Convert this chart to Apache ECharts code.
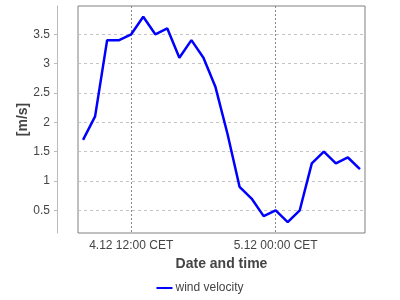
<!DOCTYPE html>
<html>
<head>
<meta charset="utf-8">
<script src="https://cdn.jsdelivr.net/npm/echarts@6/dist/echarts.min.js"></script>
<style>html,body{margin:0;padding:0;background:#fff}#c{width:400px;height:300px}</style>
</head>
<body>
<div id="c"></div>
<script>
// hours since 4.12 00:00 CET
var hours = [8,9,10,11,12,13,14,15,16,17,18,19,20,21,22,23,24,25,26,27,28,29,30,31];
var windVelocity = [1.7,2.1,3.4,3.4,3.5,3.8,3.5,3.6,3.1,3.4,3.1,2.6,1.8,0.9,0.7,0.4,0.5,0.3,0.5,1.3,1.5,1.3,1.4,1.2];
var xTicks = [12, 24];
var yTicks = [0.5, 1, 1.5, 2, 2.5, 3, 3.5];

function fmtX(v) {
  var day = 4 + Math.floor(v / 24);
  var h = v % 24;
  return day + '.12 ' + (h < 10 ? '0' : '') + h + ':00 CET';
}

var chart = echarts.init(document.getElementById('c'), null, {renderer: 'canvas'});
chart.setOption({
  animation: false,
  textStyle: {fontFamily: 'Liberation Sans, Arial, sans-serif'},
  grid: {left: 78, right: 35, top: 6, bottom: 67, show: true, borderColor: '#808080', borderWidth: 1, containLabel: false},
  xAxis: {
    type: 'value', min: 7.58, max: 31.42,
    name: 'Date and time', nameLocation: 'middle', nameGap: 24, nameMoveOverlap: false,
    nameTextStyle: {fontSize: 14, fontWeight: 'bold', color: '#444'},
    axisLine: {show: false},
    axisTick: {show: false, customValues: xTicks},
    axisLabel: {customValues: xTicks, formatter: fmtX, fontSize: 12, color: '#444', margin: 7},
    splitLine: {show: true, customValues: xTicks, lineStyle: {color: '#888', type: [2, 2], width: 1}}
  },
  yAxis: {
    type: 'value', min: 0.113, max: 3.982, offset: 21,
    name: '[m/s]', nameLocation: 'middle', nameGap: 27, nameMoveOverlap: false,
    nameTextStyle: {fontSize: 14, fontWeight: 'bold', color: '#444'},
    axisLine: {show: true, lineStyle: {color: '#bbb'}},
    axisTick: {show: true, length: 3, customValues: yTicks, lineStyle: {color: '#bbb'}},
    axisLabel: {customValues: yTicks, fontSize: 12, color: '#444', margin: 7},
    splitLine: {show: true, customValues: yTicks, lineStyle: {color: '#c4c4c4', type: [3, 3], width: 1}}
  },
  legend: {
    top: 277, left: 'center', itemWidth: 16, itemHeight: 10, itemGap: 10,
    textStyle: {fontSize: 12, color: '#444', padding: [0,0,0,-2]},
    data: [{name: 'wind velocity', icon: 'path://M0,4h16v2H0z'}]
  },
  series: [{
    name: 'wind velocity', type: 'line', showSymbol: false, symbol: 'none',
    lineStyle: {color: '#0000ff', width: 2.5}, itemStyle: {color: '#0000ff'},
    data: hours.map(function (h, i) { return [h, windVelocity[i]]; })
  }]
});
</script>
</body>
</html>
